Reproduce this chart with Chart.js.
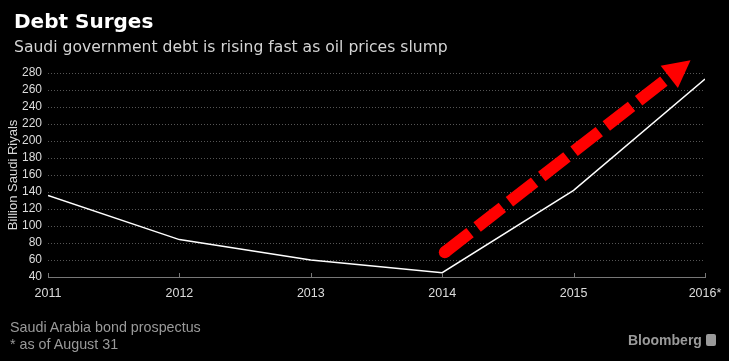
<!DOCTYPE html>
<html>
<head>
<meta charset="utf-8">
<script src="https://cdn.jsdelivr.net/npm/chart.js@4"></script>
<style>
  html, body { margin: 0; padding: 0; background: #000; }
  #wrap { position: relative; width: 729px; height: 361px; background: #000; overflow: hidden; }
  #chart { position: absolute; left: 0; top: 0; }
  .title { position: absolute; left: 14px; top: 9px; color: #fff; font: bold 20px "DejaVu Sans", sans-serif; }
  .subtitle { position: absolute; left: 14px; top: 38px; color: #d4d4d4; font: 15.6px "DejaVu Sans", sans-serif; }
  .foot { position: absolute; left: 10px; color: #9a9a9a; font: 14.3px "Liberation Sans", sans-serif; }
  .brand { position: absolute; left: 628px; top: 332px; color: #9a9a9a; font: bold 14px "Liberation Sans", sans-serif; }
  .icon { position: absolute; left: 706px; top: 334px; width: 10px; height: 12px; background: #9a9a9a; border-radius: 2px; }
</style>
</head>
<body>
<div id="wrap">
  <canvas id="chart" width="729" height="361"></canvas>
  <div class="title">Debt Surges</div>
  <div class="subtitle">Saudi government debt is rising fast as oil prices slump</div>
  <div class="foot" style="top:319px">Saudi Arabia bond prospectus</div>
  <div class="foot" style="top:336px">* as of August 31</div>
  <div class="brand">Bloomberg</div>
  <div class="icon"></div>
</div>
<script>
// chart data
const years = [2011, 2012, 2013, 2014, 2015, 2016];
const debt  = [136, 84, 60, 45, 142, 273];
const lastYearLabel = '2016*';

// red arrow annotation, [year, value]
const arrowStart = [2014.02, 69];
const arrowTip   = [2015.89, 295];

const yMin = 40, yMax = 280, yStep = 20;

// dashed red arrow, placed through the scales
const arrowPlugin = {
  id: 'arrow',
  afterDatasetsDraw(chart) {
    const xs = chart.scales.x, ys = chart.scales.y;
    const ctx = chart.ctx;
    const x0 = xs.getPixelForValue(arrowStart[0]), y0 = ys.getPixelForValue(arrowStart[1]);
    const x1 = xs.getPixelForValue(arrowTip[0]),   y1 = ys.getPixelForValue(arrowTip[1]);
    const ang = Math.atan2(y1 - y0, x1 - x0);
    const headLen = 27, headHalf = 14;
    const bx = x1 - headLen * Math.cos(ang), by = y1 - headLen * Math.sin(ang);

    ctx.save();
    ctx.strokeStyle = '#ff0000';
    ctx.fillStyle = '#ff0000';
    ctx.lineWidth = 12;
    ctx.lineCap = 'butt';
    ctx.setLineDash([32, 9]);
    ctx.beginPath();
    ctx.moveTo(x0, y0);
    ctx.lineTo(bx - 6 * Math.cos(ang), by - 6 * Math.sin(ang));
    ctx.stroke();
    // rounded start
    ctx.setLineDash([]);
    ctx.beginPath();
    ctx.arc(x0, y0, 6, 0, Math.PI * 2);
    ctx.fill();
    // head
    ctx.beginPath();
    ctx.moveTo(x1, y1);
    ctx.lineTo(bx + headHalf * Math.sin(ang), by - headHalf * Math.cos(ang));
    ctx.lineTo(bx - headHalf * Math.sin(ang), by + headHalf * Math.cos(ang));
    ctx.closePath();
    ctx.fill();
    ctx.restore();
  }
};

// small upward tick marks on the x axis
const xTicksPlugin = {
  id: 'xTicksUp',
  afterDraw(chart) {
    const xs = chart.scales.x;
    const ctx = chart.ctx;
    const yb = chart.chartArea.bottom;
    ctx.save();
    ctx.strokeStyle = '#777';
    ctx.lineWidth = 1;
    years.forEach(y => {
      const px = Math.round(xs.getPixelForValue(y)) + 0.5;
      ctx.beginPath();
      ctx.moveTo(px, yb);
      ctx.lineTo(px, yb - 4);
      ctx.stroke();
    });
    ctx.restore();
  }
};

const ctx = document.getElementById('chart').getContext('2d');
new Chart(ctx, {
  type: 'line',
  data: {
    datasets: [{
      label: 'Debt',
      data: years.map((y, i) => ({ x: y, y: debt[i] })),
      borderColor: '#ffffff',
      borderWidth: 1.5,
      pointRadius: 0,
      tension: 0,
      fill: false
    }]
  },
  options: {
    responsive: false,
    animation: false,
    layout: { padding: { top: 73, bottom: 59, left: 0, right: 24 } },
    plugins: {
      legend: { display: false },
      tooltip: { enabled: false }
    },
    scales: {
      x: {
        type: 'linear',
        min: years[0],
        max: years[years.length - 1],
        grid: { display: false },
        border: { display: true, color: '#777', width: 1 },
        ticks: {
          stepSize: 1,
          color: '#dcdcdc',
          font: { family: 'Liberation Sans', size: 12.5 },
          padding: 1,
          maxRotation: 0,
          callback: v => (v === years[years.length - 1] ? lastYearLabel : String(v))
        }
      },
      y: {
        min: yMin,
        max: yMax,
        afterFit: s => { s.width = 48; },
        grid: {
          color: c => (c.tick.value === yMin ? 'rgba(0,0,0,0)' : '#555'),
          lineWidth: 1,
          drawTicks: false
        },
        border: { display: false, dash: [1, 2] },
        ticks: {
          stepSize: yStep,
          autoSkip: false,
          color: '#dcdcdc',
          font: { family: 'Liberation Sans', size: 12 },
          padding: 6
        },
        title: {
          display: true,
          text: 'Billion Saudi Riyals',
          color: '#d8d8d8',
          font: { family: 'Liberation Sans', size: 13 },
          padding: { top: 6, bottom: 0 }
        }
      }
    }
  },
  plugins: [arrowPlugin, xTicksPlugin]
});
</script>
</body>
</html>
